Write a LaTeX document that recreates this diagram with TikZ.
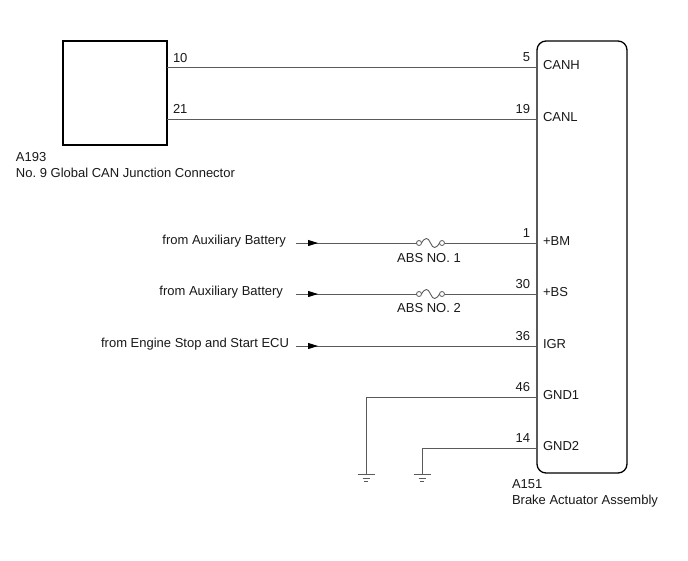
\documentclass[tikz,border=0pt]{standalone}
\usepackage{fontspec}
\setmainfont{Liberation Sans}
\usetikzlibrary{arrows.meta}
\definecolor{wirecol}{RGB}{90,90,90}
\definecolor{txtcol}{RGB}{25,25,25}
\frenchspacing
\begin{document}
\begin{tikzpicture}[x=1pt,y=-1pt,
  wire/.style={draw=wirecol, line width=0.9pt},
  boxline/.style={draw=black, line width=1.3pt},
  lbl/.style={font=\fontsize{13}{15}\selectfont\frenchspacing, text=txtcol, inner sep=0pt, outer sep=0pt},
  fusering/.style={circle, draw=wirecol, line width=0.8pt, minimum size=5pt, inner sep=0pt, outer sep=0pt},
  inarrow/.style={wire, -{Triangle[length=10pt,width=6pt,color=black]}},
  gndbar/.style={draw=wirecol, line width=0.9pt}]
\useasboundingbox[fill=white] (0,0) rectangle (688,560);

% components
\node[boxline, minimum width=104pt, minimum height=104pt, inner sep=0pt, outer sep=0pt, anchor=north west] (a193) at (63,41) {};
\node[boxline, rounded corners=9pt, minimum width=90pt, minimum height=432pt, inner sep=0pt, outer sep=0pt, anchor=north west] (a151) at (537,41) {};

\node[lbl, anchor=base west] (a193id) at (16,161) {A193};
\node[lbl, anchor=base west] (a193name) at (16,177) {No. 9 Global CAN Junction Connector};
\node[lbl, anchor=base west] (a151id) at (512,488) {A151};
\node[lbl, anchor=base west] (a151name) at (512,504) {Brake Actuator Assembly};

% pins
\coordinate (p10) at (167,67);
\coordinate (p21) at (167,119);
\coordinate (pCANH) at (537,67);
\coordinate (pCANL) at (537,119);
\coordinate (pBM) at (537,243);
\coordinate (pBS) at (537,294);
\coordinate (pIGR) at (537,346);
\coordinate (pG1) at (537,397);
\coordinate (pG2) at (537,448);

% pin numbers
\node[lbl, anchor=base west] (n10) at (173,62) {10};
\node[lbl, anchor=base west] (n21) at (173,113) {21};
\node[lbl, anchor=base east] (n5) at (530,61.5) {5};
\node[lbl, anchor=base east] (n19) at (530,113.5) {19};
\node[lbl, anchor=base east] (n1) at (530,237.5) {1};
\node[lbl, anchor=base east] (n30) at (530,288.5) {30};
\node[lbl, anchor=base east] (n36) at (530,340.5) {36};
\node[lbl, anchor=base east] (n46) at (530,391.5) {46};
\node[lbl, anchor=base east] (n14) at (530,442.5) {14};

% pin names
\node[lbl, anchor=base west] (tCANH) at (543,69) {CANH};
\node[lbl, anchor=base west] (tCANL) at (543,121) {CANL};
\node[lbl, anchor=base west] (tBM) at (543,245) {+BM};
\node[lbl, anchor=base west] (tBS) at (543,296) {+BS};
\node[lbl, anchor=base west] (tIGR) at (543,348) {IGR};
\node[lbl, anchor=base west] (tG1) at (543,399) {GND1};
\node[lbl, anchor=base west] (tG2) at (543,450) {GND2};

% CAN wires
\draw[wire] (p10) -- (pCANH);
\draw[wire] (p21) -- (pCANL);

% sources
\node[lbl, anchor=base east] (sBM) at (286,244) {from Auxiliary Battery};
\node[lbl, anchor=base east] (sBS) at (283,295.5) {from Auxiliary Battery};
\node[lbl, anchor=base east] (sIGR) at (289,347.5) {from Engine Stop and Start ECU};
\coordinate (wBM) at (296,243);
\coordinate (wBS) at (296,294);
\coordinate (wIGR) at (296,346);

% fuses
\node[fusering] (f1a) at (419,243) {};
\node[fusering] (f1b) at (442,243) {};
\node[fusering] (f2a) at (419,294) {};
\node[fusering] (f2b) at (442,294) {};
\node[lbl, anchor=base] (fl1) at (429,262) {ABS NO. 1};
\node[lbl, anchor=base] (fl2) at (429,312) {ABS NO. 2};

\draw[wire] (wBM) -- (f1a);
\draw[wire] (f1a.east) .. controls (425,237) and (428,237) .. (430.5,243) .. controls (433,249) and (436,249) .. (f1b.west);
\draw[wire] (f1b) -- (pBM);
\draw[inarrow] (wBM) -- ++(22,0);

\draw[wire] (wBS) -- (f2a);
\draw[wire] (f2a.east) .. controls (425,288) and (428,288) .. (430.5,294) .. controls (433,300) and (436,300) .. (f2b.west);
\draw[wire] (f2b) -- (pBS);
\draw[inarrow] (wBS) -- ++(22,0);

\draw[wire] (wIGR) -- (pIGR);
\draw[inarrow] (wIGR) -- ++(22,0);

% grounds
\coordinate (g1) at (366,474);
\coordinate (g2) at (422,474);
\draw[wire] (pG1) -| (g1);
\draw[wire] (pG2) -| (g2);
\foreach \g in {g1,g2}{
  \draw[gndbar] ([xshift=-8.5pt]\g) -- ([xshift=8.5pt]\g);
  \draw[gndbar] ([xshift=-3.5pt,yshift=-4pt]\g) -- ([xshift=3.5pt,yshift=-4pt]\g);
  \draw[gndbar] ([xshift=-2pt,yshift=-7.5pt]\g) -- ([xshift=2pt,yshift=-7.5pt]\g);
}
\end{tikzpicture}
\end{document}
